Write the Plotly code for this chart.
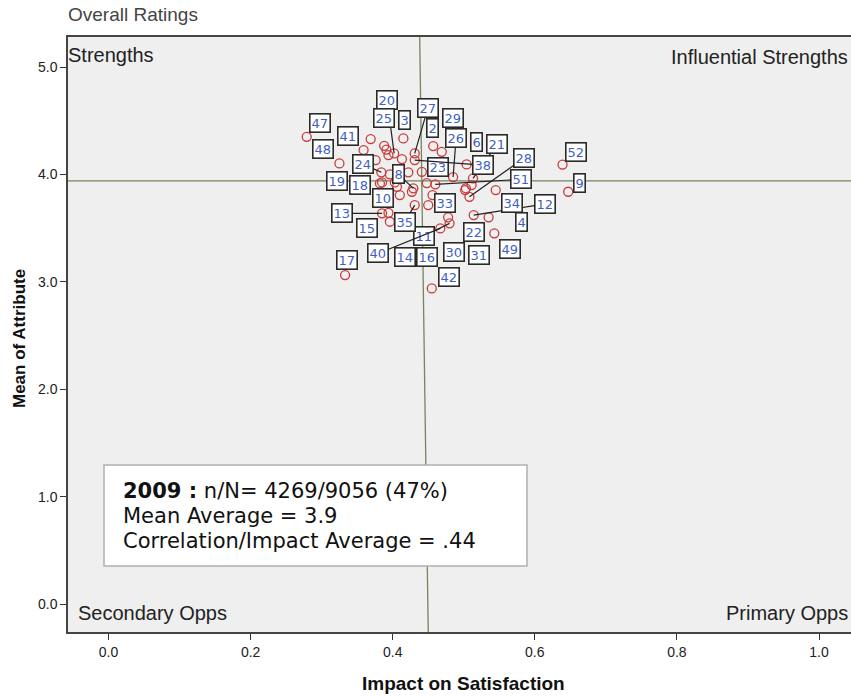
import plotly.graph_objects as go

# ---------------- data ----------------
ids = list(range(1, 53))
impact = [0.369, 0.457, 0.415, 0.511, 0.391, 0.504, 0.394, 0.429, 0.647, 0.410,
          0.480, 0.514, 0.385, 0.394, 0.396, 0.450, 0.333, 0.382, 0.385, 0.402,
          0.513, 0.535, 0.441, 0.384, 0.388, 0.485, 0.431, 0.508, 0.469, 0.478,
          0.502, 0.413, 0.456, 0.545, 0.431, 0.396, 0.403, 0.431, 0.422, 0.467,
          0.359, 0.455, 0.427, 0.406, 0.503, 0.376, 0.279, 0.325, 0.543, 0.448,
          0.460, 0.639]
mean_attr = [4.330, 4.264, 4.336, 3.901, 4.232, 4.094, 4.181, 3.871, 3.839, 3.808,
             3.545, 3.622, 3.638, 3.643, 3.560, 3.715, 3.063, 3.917, 3.926, 4.196,
             3.964, 3.601, 4.025, 4.020, 4.267, 3.976, 4.196, 3.792, 4.211, 3.601,
             3.855, 4.143, 3.808, 3.855, 3.715, 4.001, 3.926, 4.134, 4.020, 3.498,
             4.227, 2.939, 3.839, 3.885, 3.871, 4.134, 4.351, 4.103, 3.452, 3.920,
             3.908, 4.092]
hidden_labels = {1, 5, 7, 32, 36, 37, 39, 43, 44, 45, 46, 50}

x_ticks = [0.0, 0.2, 0.4, 0.6, 0.8, 1.0]
x_tick_text = ["0.0", "0.2", "0.4", "0.6", "0.8", "1.0"]
y_ticks = [0, 1, 2, 3, 4, 5]
y_tick_text = ["0.0", "1.0", "2.0", "3.0", "4.0", "5.0"]

ref_mean = 3.94
ref_impact_top = 0.438
ref_impact_bottom = 0.450

title_text = "Overall Ratings"
x_title = "Impact on Satisfaction"
y_title = "Mean of Attribute"
quadrants = ["Strengths", "Influential Strengths", "Secondary Opps", "Primary Opps"]
info_lines = ["<b>2009 :</b> n/N= 4269/9056 (47%)",
              "Mean Average = 3.9",
              "Correlation/Impact Average = .44"]

# label placement (pixel offsets from point, leader line flag) -- styling only
label_offsets = {
    47: (13, -14, False), 48: (-16, -14, False), 17: (2, -15, False), 41: (-16, -14, False),
    25: (0, -28, False), 20: (-7, -53, True), 3: (1, -18, False), 27: (13, -45, True),
    38: (68, 5, True), 2: (-1, -18, False), 29: (11, -34, False), 26: (3, -39, True),
    6: (10, -22, False), 21: (24, -34, True), 23: (16, -5, False), 28: (55, -39, True),
    52: (13, -13, False), 51: (86, -5, True), 9: (11, -9, False), 24: (-18, -8, True),
    8: (-15, -14, True), 19: (-45, -1, False), 18: (-20, 2, False), 10: (-17, 3, False),
    13: (-40, 0, True), 15: (-23, 6, False), 14: (17, 44, False), 35: (-10, 17, True),
    40: (-62, 25, True), 11: (-26, 13, True), 16: (-1, 52, False), 33: (12, 8, False),
    30: (6, 35, False), 42: (17, -11, False), 22: (-15, 15, False), 12: (71, -11, True),
    34: (16, 13, False), 49: (16, 16, False), 31: (14, 65, False), 4: (50, 37, False),
}

# ---------------- figure ----------------
fig = go.Figure()
fig.add_trace(go.Scatter(
    x=impact, y=mean_attr, mode="markers",
    text=[str(i) for i in ids],
    marker=dict(symbol="circle-open", size=9, color="#c83c3c", line=dict(width=1.3)),
    hoverinfo="text", showlegend=False))

line_col = "#74865a"
fig.add_shape(type="line", xref="paper", yref="y", x0=0, x1=1, y0=ref_mean, y1=ref_mean,
              line=dict(color=line_col, width=1.3), layer="below")
fig.add_shape(type="line", xref="x", yref="paper", x0=ref_impact_top, x1=ref_impact_bottom,
              y0=1, y1=0, line=dict(color=line_col, width=1.3), layer="below")

annotations = []
for i, xv, yv in zip(ids, impact, mean_attr):
    if i in hidden_labels:
        continue
    dx, dy, lead = label_offsets[i]
    annotations.append(dict(
        x=xv, y=yv, xref="x", yref="y", text=str(i), showarrow=True,
        ax=dx, ay=dy, arrowhead=0, arrowwidth=1.2, standoff=0,
        arrowcolor="#222" if lead else "rgba(0,0,0,0)",
        font=dict(family="DejaVu Sans", size=13, color="#3f5fc8"),
        bgcolor="white", bordercolor="#2a2a2a", borderwidth=1.6, borderpad=1))

W, H = 851, 696
L, R, T, B = 68, 0, 37, 696 - 632
pw, ph = W - L - R, H - T - B


def px(x):
    return (x - L) / pw


def py(y):
    return (H - B - y) / ph


txt_font = dict(family="Liberation Sans, Arial", size=20, color="#222")
annotations += [
    dict(x=px(66), y=py(15), xref="paper", yref="paper", text=title_text, showarrow=False,
         xanchor="left", yanchor="middle",
         font=dict(family="Liberation Sans, Arial", size=19, color="#444")),
    dict(x=px(66), y=py(55), xref="paper", yref="paper", text=quadrants[0], showarrow=False,
         xanchor="left", yanchor="middle", font=txt_font),
    dict(x=px(850), y=py(57), xref="paper", yref="paper", text=quadrants[1], showarrow=False,
         xanchor="right", yanchor="middle", font=txt_font),
    dict(x=px(76), y=py(613), xref="paper", yref="paper", text=quadrants[2], showarrow=False,
         xanchor="left", yanchor="middle", font=txt_font),
    dict(x=px(850), y=py(613), xref="paper", yref="paper", text=quadrants[3], showarrow=False,
         xanchor="right", yanchor="middle", font=txt_font),
    dict(x=px(463), y=py(683), xref="paper", yref="paper", text="<b>" + x_title + "</b>",
         showarrow=False, xanchor="center", yanchor="middle",
         font=dict(family="Liberation Sans, Arial", size=19, color="#111")),
    dict(x=px(19), y=py(339), xref="paper", yref="paper", text="<b>" + y_title + "</b>",
         showarrow=False, xanchor="center", yanchor="middle", textangle=-90,
         font=dict(family="Liberation Sans, Arial", size=17, color="#111")),
]
for line, yy in zip(info_lines, [491, 516, 541]):
    annotations.append(dict(x=px(121), y=py(yy), xref="paper", yref="paper", text=line,
                            showarrow=False, xanchor="left", yanchor="middle",
                            font=dict(family="DejaVu Sans", size=21, color="#111")))

fig.add_shape(type="rect", xref="paper", yref="paper", x0=px(104), x1=px(527),
              y0=py(566), y1=py(465), fillcolor="white",
              line=dict(color="#b0b0b0", width=1.5), layer="above")

axis_font = dict(family="Liberation Sans, Arial", size=14, color="#222")
fig.update_layout(
    width=W, height=H, margin=dict(l=L, r=R, t=T, b=B),
    paper_bgcolor="white", plot_bgcolor="#efefef",
    annotations=annotations,
    xaxis=dict(range=[-0.057, 1.045], tickvals=x_ticks, ticktext=x_tick_text,
               ticks="outside", ticklen=6, tickwidth=1.3, tickcolor="#333",
               showgrid=False, zeroline=False, showline=True, linecolor="#444",
               linewidth=1.5, mirror=True, tickfont=axis_font),
    yaxis=dict(range=[-0.26, 5.28], tickvals=y_ticks, ticktext=y_tick_text,
               ticks="outside", ticklen=6, tickwidth=1.3, tickcolor="#333",
               showgrid=False, zeroline=False, showline=True, linecolor="#444",
               linewidth=1.5, mirror=False, tickfont=axis_font),
)

fig.write_html("out.html", config={"displayModeBar": False},
               post_script="document.body.style.margin='0';document.body.style.overflow='hidden';")
